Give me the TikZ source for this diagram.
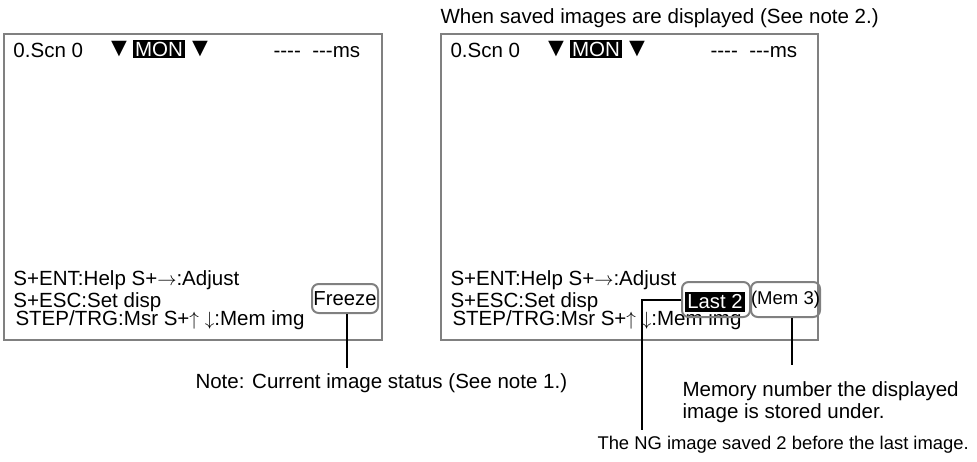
\documentclass[tikz,border=0pt]{standalone}
\usepackage{fontspec}
\setmainfont{Liberation Sans}[Ligatures=TeXOff]
\usetikzlibrary{positioning}

\newcommand{\lcdfont}{\fontsize{15.4}{16.5}\selectfont}
\newcommand{\tagfont}{\fontsize{15.2}{16}\selectfont}
\newcommand{\memfont}{\fontsize{13.9}{15}\selectfont}

\tikzset{every picture/.style={line width=0.75pt}}

\begin{document}
\begin{tikzpicture}[x=0.75pt,y=0.75pt,yscale=-1,xscale=1,
  screen/.style={draw={rgb, 255:red, 128; green, 128; blue, 128 }, line width=1.5pt},
  lcd/.style={anchor=base west, inner sep=0pt, font=\lcdfont},
  tri/.style={anchor=center, inner sep=0pt, font=\fontsize{20}{20}\selectfont},
  inv/.style={fill=black, text=white, inner sep=1.5pt, minimum height=14pt, font=\lcdfont},
  tag/.style={draw={rgb, 255:red, 128; green, 128; blue, 128 }, line width=1.5pt, rounded corners=5pt, inner sep=0pt},
  lead/.style={draw=black, line width=1.5pt}]

\useasboundingbox (0,0) rectangle (977,461);

%% ---------------- live image screen ----------------
\draw [screen] (4,34) rectangle (382,340);

\node [lcd] (scnL) at (13,57) {0.Scn 0};
\node [tri] (triLa) at (119,49) {▼};
\node [inv] (monL) at (159,49) {MON};
\node [tri] (triLb) at (200,49) {▼};
\node [lcd] (msL) at (273,57) {----~~---ms};

\node [lcd] (helpL) at (13,285) {S+ENT:Help S+$\rightarrow$:Adjust};
\node [lcd] (dispL) at (13,307) {S+ESC:Set disp};
\node [lcd] (imgL) at (15,325) {STEP/TRG:Msr S+$\uparrow$ $\downarrow$:Mem img};

\node [tag, minimum width=49.5pt, minimum height=21.75pt, font=\tagfont] (frz) at (345,298.5) {Freeze};

%% ---------------- saved image screen ----------------
\node [lcd] (title) at (440,23) {When saved images are displayed (See note 2.)};

\draw [screen] (441,34) rectangle (818,340);

\node [lcd] (scnR) at (450,57) {0.Scn 0};
\node [tri] (triRa) at (556,49) {▼};
\node [inv] (monR) at (596,49) {MON};
\node [tri] (triRb) at (637,49) {▼};
\node [lcd] (msR) at (710,57) {----~~---ms};

\node [lcd] (helpR) at (450,285) {S+ENT:Help S+$\rightarrow$:Adjust};
\node [lcd] (dispR) at (450,307) {S+ESC:Set disp};
\node [lcd] (imgR) at (452,325) {STEP/TRG:Msr S+$\uparrow$ $\downarrow$:Mem img};

\node [inv, font=\tagfont, minimum width=45pt, minimum height=15pt] (last) at (715,302) {Last 2};
\node [tag, minimum width=51pt, minimum height=26.25pt] (lastTag) at (716,299.5) {};
\node [tag, minimum width=47.25pt, minimum height=26.25pt, font=\memfont] (mem) at (785.5,299.5) {(Mem 3)};

%% ---------------- notes ----------------
\node [lcd] (noteFrz) at (195,388) {Note: Current image status (See note 1.)};
\node [lcd, anchor=north west, align=left] (noteMem) at (682,381) {Memory number the displayed\\image is stored under.};
\node [lcd, font=\fontsize{13.8}{15}\selectfont] (noteLast) at (597,449) {The NG image saved 2 before the last image.};

\coordinate (frzEnd) at (347,368);
\coordinate (lastBend) at (642,299.5);
\coordinate (lastEnd) at (642,430);
\coordinate (memEnd) at (792,365);

\draw [lead] (frz.south -| frzEnd) -- (frzEnd);
\draw [lead] (lastTag.west) -- (lastBend) -- (lastEnd);
\draw [lead] (mem.south -| memEnd) -- (memEnd);

\end{tikzpicture}
\end{document}
